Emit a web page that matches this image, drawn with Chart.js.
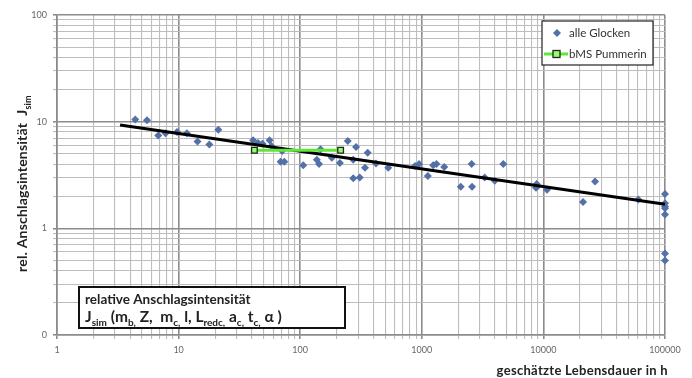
<!DOCTYPE html>
<html>
<head>
<meta charset="utf-8">
<script src="https://cdn.jsdelivr.net/npm/chart.js@4.4.1/dist/chart.umd.min.js"></script>
<style>
  html, body { margin: 0; padding: 0; background: #fff; }
  #wrap { width: 692px; height: 378px; position: relative; }
</style>
</head>
<body>
<div id="wrap"><canvas id="chart"></canvas></div>
<script>
// estimated lifetime in h (x) and relative strike intensity (y) for all bells
const glockenX = [4.4, 5.5, 6.8, 7.8, 9.7, 11.7, 14.3, 17.9, 21.2, 41, 45, 49, 56, 58, 71, 69, 74,
  106, 137, 143, 147, 182, 212, 246, 288, 273, 359, 341, 273, 309, 420, 530, 880, 950, 1120,
  1240, 1320, 1530, 2570, 2090, 2590, 3290, 3980, 4680, 8810, 8980, 8690, 10700, 26600, 21200,
  60300, 100000, 100000, 100000, 100000, 100000, 100000, 100000];
const glockenY = [10.5, 10.3, 7.4, 7.8, 8.0, 7.8, 6.5, 6.1, 8.4, 6.7, 6.3, 6.2, 6.7, 5.9, 5.3, 4.2, 4.2,
  3.9, 4.4, 4.0, 5.5, 4.6, 4.1, 6.6, 5.8, 4.4, 5.1, 3.7, 2.95, 3.0, 4.05, 3.7, 3.85, 4.0, 3.1,
  3.9, 4.0, 3.75, 4.0, 2.45, 2.45, 3.0, 2.8, 4.0, 2.6, 2.5, 2.4, 2.3, 2.75, 1.77, 1.86,
  2.1, 1.72, 1.6, 1.54, 1.35, 0.58, 0.5];

// bMS Pummerin
const pummerinX = [42, 215];
const pummerinY = [5.4, 5.4];

// trend line (power law, straight on log-log)
const trendX = [3.3, 100000];
const trendY = [9.3, 1.68];

// axis ticks
const xTicks = [1, 10, 100, 1000, 10000, 100000];
const xTickLabels = ['1', '10', '100', '1000', '10000', '100000'];
const yTicks = [0.1, 1, 10, 100];
const yTickLabels = ['0', '1', '10', '100'];

const toPoints = (xs, ys) => xs.map((x, i) => ({ x: x, y: ys[i] }));

// all 1..9 steps of every decade, so the grid gets drawn like excel does
function decadeSteps(majors) {
    const out = [];
    for (let i = 0; i < majors.length - 1; i++) {
        for (let m = 1; m < 10; m++) out.push(m * majors[i]);
    }
    out.push(majors[majors.length - 1]);
    return out;
}

function isMajor(v) {
    const l = Math.log10(v);
    return Math.abs(l - Math.round(l)) < 1e-9;
}

function labelFor(majors, labels, v) {
    const i = majors.findIndex(m => Math.abs(m - v) / m < 1e-9);
    return i >= 0 ? labels[i] : '';
}

const FONT = 'Lato, "Open Sans", sans-serif';

// draws a text run with subscripts, returns end x
function drawRuns(ctx, runs, x, y, size) {
    runs.forEach(r => {
        if (r[1] === 'sub') {
            ctx.font = 'bold ' + Math.round(size * 0.62) + 'px ' + FONT;
            ctx.fillText(r[0], x, y + size * 0.25);
        } else {
            ctx.font = 'bold ' + size + 'px ' + FONT;
            ctx.fillText(r[0], x, y);
        }
        x += ctx.measureText(r[0]).width;
    });
    return x;
}

const extrasPlugin = {
    id: 'extras',
    afterDraw(chart) {
        const ctx = chart.ctx;
        ctx.save();
        ctx.fillStyle = '#222';
        ctx.textBaseline = 'alphabetic';

        // y axis title, rotated
        ctx.save();
        ctx.translate(27, 272);
        ctx.rotate(-Math.PI / 2);
        ctx.textAlign = 'left';
        ctx.letterSpacing = '0.2px';
        drawRuns(ctx, [['rel. Anschlagsintensität  J', ''], ['sim', 'sub']], 0, 0, 14);
        ctx.restore();

        // x axis title
        ctx.save();
        ctx.letterSpacing = '0.3px';
        ctx.font = 'bold 13px ' + FONT;
        ctx.textAlign = 'right';
        ctx.fillText('geschätzte Lebensdauer in h', 668, 375);
        ctx.restore();
        ctx.textAlign = 'left';

        // text box bottom left
        ctx.fillStyle = '#fff';
        ctx.fillRect(79, 287, 266, 41);
        ctx.strokeStyle = '#111';
        ctx.lineWidth = 2;
        ctx.strokeRect(79, 287, 266, 41);
        ctx.fillStyle = '#222';
        ctx.font = 'bold 13.5px ' + FONT;
        ctx.fillText('relative Anschlagsintensität', 85, 304);
        drawRuns(ctx, [['J', ''], ['sim', 'sub'], [' (m', ''], ['b,', 'sub'], [' Z,  m', ''], ['c,', 'sub'],
            [' l, L', ''], ['redc,', 'sub'], [' a', ''], ['c,', 'sub'], [' t', ''], ['c,', 'sub'], [' α )', '']],
            85, 322, 15.5);

        // legend
        ctx.fillStyle = '#fff';
        ctx.fillRect(542, 21, 111, 44);
        ctx.strokeStyle = '#222';
        ctx.lineWidth = 1.2;
        ctx.strokeRect(542, 21, 111, 44);

        ctx.fillStyle = '#5470a8';
        ctx.beginPath();
        ctx.moveTo(557, 29); ctx.lineTo(561, 33); ctx.lineTo(557, 37); ctx.lineTo(553, 33);
        ctx.closePath();
        ctx.fill();

        ctx.strokeStyle = '#5ee83a';
        ctx.lineWidth = 3;
        ctx.beginPath();
        ctx.moveTo(544, 54); ctx.lineTo(568, 54);
        ctx.stroke();
        ctx.fillStyle = '#9cf57c';
        ctx.fillRect(553, 50.5, 7, 7);
        ctx.strokeStyle = '#1c2a10';
        ctx.lineWidth = 1.3;
        ctx.strokeRect(553, 50.5, 7, 7);

        ctx.fillStyle = '#333';
        ctx.font = '11.5px ' + FONT;
        ctx.fillText('alle Glocken', 569, 37);
        ctx.fillText('bMS Pummerin', 569, 58);
        ctx.restore();
    }
};

const gridColor = ctx => (ctx.tick && isMajor(ctx.tick.value)) ? '#8c8c8c' : '#bdbdbd';
const gridWidth = ctx => (ctx.tick && isMajor(ctx.tick.value)) ? 1.6 : 1.1;

new Chart(document.getElementById('chart'), {
    data: {
        datasets: [
            {
                type: 'line',
                label: 'bMS Pummerin',
                data: toPoints(pummerinX, pummerinY),
                borderColor: '#5ee83a',
                borderWidth: 3,
                pointStyle: 'rect',
                pointRadius: 4,
                pointBorderWidth: 1.3,
                pointBackgroundColor: '#9cf57c',
                pointBorderColor: '#1c2a10',
                clip: false,
                order: 0
            },
            {
                type: 'line',
                label: 'Trend',
                data: toPoints(trendX, trendY),
                borderColor: '#000',
                borderWidth: 3,
                pointRadius: 0,
                clip: false,
                order: 1
            },
            {
                type: 'scatter',
                label: 'alle Glocken',
                data: toPoints(glockenX, glockenY),
                pointStyle: 'rectRot',
                pointRadius: 4,
                backgroundColor: '#5470a8',
                borderColor: '#5470a8',
                borderWidth: 0,
                clip: false,
                order: 2
            }
        ]
    },
    options: {
        responsive: true,
        maintainAspectRatio: false,
        animation: false,
        layout: { padding: { top: 15, right: 27, bottom: 0, left: 0 } },
        plugins: {
            legend: { display: false },
            tooltip: { enabled: false }
        },
        scales: {
            x: {
                type: 'logarithmic',
                min: 1,
                max: 100000,
                afterBuildTicks: s => { s.ticks = decadeSteps(xTicks).map(v => ({ value: v })); },
                afterFit: s => { s.height = 43; },
                ticks: {
                    autoSkip: false,
                    maxRotation: 0,
                    padding: 6,
                    color: '#666',
                    font: { family: FONT, size: 9 },
                    callback: v => labelFor(xTicks, xTickLabels, v)
                },
                grid: { color: gridColor, lineWidth: gridWidth, tickLength: 4 },
                border: { color: '#8c8c8c', width: 1.6 }
            },
            y: {
                type: 'logarithmic',
                min: 0.1,
                max: 100,
                afterBuildTicks: s => { s.ticks = decadeSteps(yTicks).map(v => ({ value: v })); },
                afterFit: s => { s.width = 57; },
                ticks: {
                    autoSkip: false,
                    padding: 6,
                    color: '#666',
                    font: { family: FONT, size: 9 },
                    callback: v => labelFor(yTicks, yTickLabels, v)
                },
                grid: { color: gridColor, lineWidth: gridWidth, tickLength: 4 },
                border: { color: '#8c8c8c', width: 1.6 }
            }
        }
    },
    plugins: [extrasPlugin]
});
</script>
</body>
</html>
